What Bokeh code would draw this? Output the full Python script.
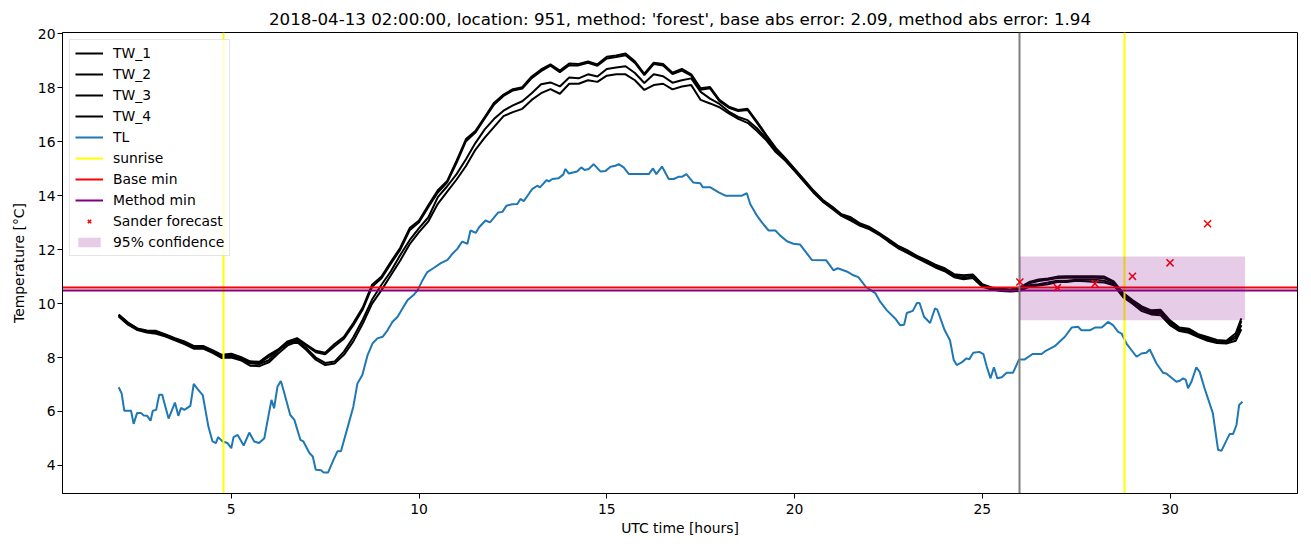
from bokeh.plotting import figure
from bokeh.models import Range1d, FixedTicker, Legend, LegendItem
from bokeh.embed import file_html
from bokeh.resources import INLINE

# ---------------- data ----------------
tw_hours = [2.0 + 0.25 * i for i in range(120)] + [31.9]

tw_1 = [9.60, 9.30, 9.08, 9.00, 8.99, 8.86, 8.72, 8.60, 8.43, 8.43, 8.27, 8.10,
        8.14, 8.02, 7.86, 7.84, 8.10, 8.30, 8.60, 8.72, 8.48, 8.25, 8.18, 8.50,
        8.77, 9.28, 9.85, 10.70, 11.00, 11.55, 12.07, 12.80, 13.08, 13.65, 14.20, 14.55,
        15.30, 16.10, 16.40, 16.92, 17.45, 17.75, 17.95, 18.02, 18.42, 18.68, 18.87, 18.64,
        18.90, 18.88, 18.98, 18.87, 19.15, 19.20, 19.27, 18.98, 18.52, 18.93, 18.88, 18.56,
        18.70, 18.50, 17.98, 18.03, 17.55, 17.30, 17.18, 17.22, 16.75, 16.25, 15.77, 15.40,
        15.00, 14.60, 14.20, 13.85, 13.60, 13.31, 13.20, 12.97, 12.84, 12.62, 12.39, 12.15,
        11.98, 11.78, 11.62, 11.44, 11.31, 11.09, 11.05, 11.08, 10.72, 10.60, 10.55, 10.52,
        10.60, 10.80, 10.89, 10.93, 11.00, 11.01, 11.01, 11.01, 11.01, 11.00, 10.82, 10.40,
        10.13, 9.90, 9.75, 9.77, 9.38, 9.11, 9.07, 8.87, 8.76, 8.65, 8.62, 8.90,
        9.45]

tw_2 = [9.58, 9.28, 9.06, 8.98, 8.95, 8.84, 8.70, 8.57, 8.40, 8.40, 8.24, 8.06,
        8.10, 7.98, 7.82, 7.80, 8.02, 8.28, 8.56, 8.68, 8.44, 8.20, 8.12, 8.42,
        8.70, 9.20, 9.78, 10.62, 10.94, 11.48, 12.00, 12.72, 13.02, 13.58, 14.12, 14.50,
        15.22, 16.02, 16.34, 16.86, 17.38, 17.70, 17.90, 17.97, 18.36, 18.62, 18.82, 18.58,
        18.84, 18.83, 18.93, 18.82, 19.09, 19.14, 19.21, 18.92, 18.47, 18.88, 18.83, 18.51,
        18.64, 18.45, 17.93, 17.98, 17.50, 17.26, 17.14, 17.18, 16.70, 16.21, 15.74, 15.37,
        14.97, 14.57, 14.17, 13.82, 13.57, 13.28, 13.17, 12.94, 12.81, 12.59, 12.36, 12.12,
        11.95, 11.75, 11.59, 11.41, 11.28, 11.06, 11.02, 11.05, 10.69, 10.58, 10.53, 10.50,
        10.56, 10.75, 10.84, 10.88, 10.95, 10.96, 10.96, 10.96, 10.96, 10.94, 10.78, 10.35,
        10.09, 9.85, 9.70, 9.71, 9.33, 9.06, 9.02, 8.83, 8.72, 8.61, 8.58, 8.80,
        9.35]

tw_3 = [9.55, 9.25, 9.05, 8.97, 8.92, 8.82, 8.68, 8.55, 8.38, 8.38, 8.22, 8.02,
        8.05, 7.95, 7.78, 7.76, 7.90, 8.25, 8.52, 8.62, 8.35, 8.00, 7.80, 7.85,
        8.22, 8.75, 9.40, 10.15, 10.70, 11.20, 11.80, 12.35, 12.80, 13.20, 13.95, 14.35,
        14.80, 15.35, 15.95, 16.46, 16.85, 17.15, 17.35, 17.50, 17.80, 18.13, 18.20, 18.05,
        18.38, 18.35, 18.50, 18.42, 18.70, 18.75, 18.80, 18.55, 18.18, 18.50, 18.43, 18.19,
        18.28, 18.35, 17.85, 17.60, 17.40, 17.12, 16.92, 16.80, 16.50, 16.12, 15.70, 15.35,
        14.95, 14.55, 14.15, 13.80, 13.55, 13.30, 13.15, 12.93, 12.80, 12.58, 12.35, 12.10,
        11.93, 11.74, 11.56, 11.38, 11.25, 11.02, 10.95, 11.00, 10.65, 10.55, 10.50, 10.48,
        10.52, 10.68, 10.72, 10.78, 10.85, 10.85, 10.88, 10.88, 10.88, 10.85, 10.72, 10.30,
        10.05, 9.80, 9.65, 9.65, 9.28, 9.02, 8.98, 8.80, 8.68, 8.58, 8.56, 8.72,
        9.20]

tw_4 = [9.52, 9.22, 9.02, 8.93, 8.88, 8.78, 8.64, 8.50, 8.33, 8.33, 8.17, 7.98,
        8.00, 7.90, 7.70, 7.68, 7.82, 8.15, 8.45, 8.58, 8.28, 7.92, 7.72, 7.78,
        8.10, 8.60, 9.25, 10.00, 10.50, 11.05, 11.60, 12.20, 12.65, 13.05, 13.70, 14.15,
        14.60, 15.10, 15.70, 16.15, 16.55, 16.95, 17.10, 17.22, 17.55, 17.80, 17.95, 17.78,
        18.15, 18.15, 18.28, 18.22, 18.45, 18.50, 18.50, 18.28, 17.92, 18.10, 18.15, 17.94,
        18.05, 18.10, 17.55, 17.42, 17.28, 17.05, 16.85, 16.70, 16.40, 16.05, 15.62, 15.30,
        14.92, 14.52, 14.12, 13.78, 13.52, 13.25, 13.08, 12.88, 12.75, 12.55, 12.30, 12.06,
        11.88, 11.70, 11.52, 11.34, 11.20, 10.98, 10.90, 10.95, 10.62, 10.52, 10.47, 10.45,
        10.47, 10.62, 10.67, 10.72, 10.80, 10.80, 10.85, 10.83, 10.80, 10.78, 10.68, 10.24,
        10.00, 9.72, 9.60, 9.57, 9.20, 8.98, 8.92, 8.76, 8.62, 8.54, 8.52, 8.62,
        9.05]

tl_hours = [2.00, 2.08, 2.15, 2.33, 2.40, 2.49, 2.60, 2.67, 2.76, 2.85, 2.91, 3.00, 3.08, 3.16,
            3.33, 3.50, 3.59, 3.66, 3.75, 3.91, 4.00, 4.11, 4.24, 4.39, 4.50, 4.59, 4.65, 4.77,
            4.90, 5.00, 5.06, 5.17, 5.33, 5.48, 5.61, 5.74, 5.88, 5.97, 6.07, 6.14, 6.23, 6.32,
            6.39, 6.57, 6.68, 6.84, 6.92, 7.08, 7.17, 7.25, 7.39, 7.46, 7.58, 7.71, 7.83, 7.92,
            8.05, 8.25, 8.36, 8.49, 8.63, 8.76, 8.89, 9.03, 9.16, 9.29, 9.43, 9.56, 9.69, 9.87,
            9.96, 10.09, 10.22, 10.40, 10.58, 10.76, 10.89, 11.02, 11.15, 11.29, 11.37, 11.51,
            11.60, 11.77, 11.89, 12.11, 12.22, 12.33, 12.48, 12.62, 12.70, 12.79, 12.95, 13.02,
            13.15, 13.22, 13.40, 13.46, 13.55, 13.72, 13.84, 13.90, 13.99, 14.21, 14.32, 14.41,
            14.52, 14.65, 14.83, 14.97, 15.10, 15.23, 15.32, 15.45, 15.59, 16.12, 16.23, 16.32,
            16.47, 16.65, 16.78, 16.91, 17.00, 17.12, 17.30, 17.49, 17.56, 17.76, 17.98, 18.16,
            18.60, 18.73, 18.82, 19.00, 19.13, 19.31, 19.49, 19.62, 19.80, 19.97, 20.15, 20.46,
            20.84, 21.04, 21.15, 21.39, 21.57, 21.70, 21.90, 22.15, 22.28, 22.46, 22.68, 22.81,
            22.92, 22.99, 23.15, 23.26, 23.33, 23.45, 23.61, 23.74, 23.80, 24.00, 24.14, 24.24,
            24.32, 24.40, 24.47, 24.58, 24.65, 24.76, 24.92, 25.03, 25.12, 25.22, 25.31, 25.40,
            25.52, 25.65, 25.82, 25.98, 26.13, 26.34, 26.58, 26.69, 26.93, 27.20, 27.38, 27.55,
            27.64, 27.86, 28.00, 28.18, 28.35, 28.48, 28.62, 28.71, 28.84, 29.11, 29.24, 29.37,
            29.46, 29.64, 29.81, 29.90, 30.17, 30.26, 30.35, 30.42, 30.48, 30.57, 30.70, 30.79,
            30.92, 31.14, 31.28, 31.37, 31.50, 31.59, 31.68, 31.77, 31.84, 31.93]

tl_values = [6.90, 6.67, 6.03, 6.03, 5.54, 5.94, 5.94, 5.85, 5.84, 5.66, 6.03, 6.06, 6.62, 6.62,
             5.74, 6.33, 5.84, 6.13, 6.06, 6.21, 7.02, 6.82, 6.61, 5.44, 4.89, 4.83, 5.05, 4.89,
             4.83, 4.64, 5.05, 5.13, 4.74, 5.22, 4.89, 4.83, 5.01, 5.69, 6.43, 6.12, 6.92, 7.13,
             6.80, 5.87, 5.69, 4.95, 4.89, 4.46, 4.33, 3.84, 3.82, 3.74, 3.74, 4.17, 4.53, 4.53,
             5.17, 6.18, 7.04, 7.35, 8.09, 8.52, 8.71, 8.77, 9.01, 9.32, 9.51, 9.82, 10.12, 10.34,
             10.49, 10.86, 11.17, 11.33, 11.50, 11.62, 11.85, 12.03, 12.30, 12.22, 12.71, 12.62,
             12.83, 13.08, 13.01, 13.38, 13.40, 13.63, 13.68, 13.69, 13.88, 13.80, 14.12, 14.25,
             14.37, 14.31, 14.58, 14.53, 14.62, 14.65, 14.78, 14.99, 14.82, 14.90, 15.05, 14.95,
             14.99, 15.17, 14.90, 14.92, 15.07, 15.11, 15.17, 15.05, 14.80, 14.80, 15.01, 14.80,
             15.08, 14.62, 14.62, 14.70, 14.70, 14.80, 14.49, 14.46, 14.31, 14.31, 14.12, 14.00,
             14.00, 14.09, 13.69, 13.26, 13.01, 12.71, 12.71, 12.52, 12.31, 12.22, 12.19, 11.62,
             11.61, 11.23, 11.31, 11.19, 11.05, 10.98, 10.62, 10.39, 10.07, 9.75, 9.45, 9.20,
             9.22, 9.65, 9.73, 10.02, 10.02, 9.51, 9.28, 9.82, 9.78, 9.01, 8.64, 7.91,
             7.72, 7.78, 7.84, 7.97, 7.93, 8.18, 8.21, 8.13, 7.66, 7.23, 7.64, 7.23,
             7.27, 7.44, 7.44, 7.93, 7.93, 8.13, 8.13, 8.25, 8.42, 8.77, 9.11, 9.14,
             9.01, 9.01, 9.11, 9.11, 9.32, 9.20, 8.95, 8.89, 8.52, 8.03, 8.15, 8.18,
             8.30, 7.78, 7.44, 7.41, 7.10, 7.14, 7.23, 7.17, 6.86, 7.10, 7.64, 7.47,
             6.86, 5.94, 4.58, 4.54, 4.92, 5.17, 5.17, 5.50, 6.24, 6.36]

sunrise_hours = [4.80, 28.79]
forecast_start = 26.0
base_min = 10.61
method_min = 10.47
forecast_hours = [26, 27, 28, 29, 30, 31]
forecast_values = [10.80, 10.59, 10.74, 11.01, 11.51, 12.96]
conf_start, conf_end = 26.0, 32.0
conf_low, conf_high = 9.38, 11.75

x_ticks = [5, 10, 15, 20, 25, 30]
y_ticks = [4, 6, 8, 10, 12, 14, 16, 18, 20]

title_text = ("2018-04-13 02:00:00, location: 951, method: 'forest', "
              "base abs error: 2.09, method abs error: 1.94")

# ---------------- figure ----------------
FONT = "DejaVu Sans"
p = figure(width=1303, height=539, output_backend="svg", toolbar_location=None,
           x_range=Range1d(0.505, 33.395), y_range=Range1d(2.96, 20.05),
           min_border_left=62, min_border_right=6, min_border_top=32, min_border_bottom=46)
p.background_fill_color = "white"
p.border_fill_color = "white"
p.outline_line_color = "black"
p.outline_line_width = 1
p.grid.visible = False

p.title.text = title_text
p.title.align = "center"
p.title.text_font = FONT
p.title.text_font_size = "16.7px"
p.title.text_font_style = "normal"
p.title.text_color = "black"
p.title.standoff = 7

for ax in (p.xaxis[0], p.yaxis[0]):
    ax.major_label_text_font = FONT
    ax.major_label_text_font_size = "13.9px"
    ax.major_label_text_color = "black"
    ax.axis_label_text_font = FONT
    ax.axis_label_text_font_size = "13.9px"
    ax.axis_label_text_font_style = "normal"
    ax.axis_label_text_color = "black"
    ax.axis_line_color = "black"
    ax.major_tick_line_color = "black"
    ax.major_tick_out = 5
    ax.major_tick_in = 0
    ax.minor_tick_line_color = None

p.xaxis.ticker = FixedTicker(ticks=x_ticks)
p.yaxis.ticker = FixedTicker(ticks=y_ticks)
p.xaxis.axis_label = "UTC time [hours]"
p.yaxis.axis_label = "Temperature [°C]"
p.xaxis.major_label_standoff = 5
p.yaxis.major_label_standoff = 2
p.xaxis.axis_label_standoff = 3
p.yaxis.axis_label_standoff = 8

LW = 2
r_tw = []
for vals in (tw_1, tw_2, tw_3, tw_4):
    r_tw.append(p.line(tw_hours, vals, line_color="black", line_width=LW))
r_tl = p.line(tl_hours, tl_values, line_color="#1f77b4", line_width=LW)

p.vspan(x=sunrise_hours, line_color="yellow", line_width=LW)
p.hspan(y=[base_min], line_color="red", line_width=LW)
p.hspan(y=[method_min], line_color="purple", line_width=LW)
p.vspan(x=[forecast_start], line_color="gray", line_width=LW)

r_fc = p.scatter(forecast_hours, forecast_values, marker="x", size=10,
                 line_color="red", line_width=1.5)
r_conf = p.quad(left=[conf_start], right=[conf_end], bottom=[conf_low], top=[conf_high],
                fill_color="purple", fill_alpha=0.2, line_color=None)

# legend proxies (single NaN point, never visible)
nan = float("nan")
r_sun = p.line([nan], [nan], line_color="yellow", line_width=LW)
r_base = p.line([nan], [nan], line_color="red", line_width=LW)
r_meth = p.line([nan], [nan], line_color="purple", line_width=LW)

items = [LegendItem(label="TW_1", renderers=[r_tw[0]]),
         LegendItem(label="TW_2", renderers=[r_tw[1]]),
         LegendItem(label="TW_3", renderers=[r_tw[2]]),
         LegendItem(label="TW_4", renderers=[r_tw[3]]),
         LegendItem(label="TL", renderers=[r_tl]),
         LegendItem(label="sunrise", renderers=[r_sun]),
         LegendItem(label="Base min", renderers=[r_base]),
         LegendItem(label="Method min", renderers=[r_meth]),
         LegendItem(label="Sander forecast", renderers=[r_fc]),
         LegendItem(label="95% confidence", renderers=[r_conf])]
legend = Legend(items=items, location="top_left", margin=7, padding=5, spacing=5,
                glyph_width=28, glyph_height=12, label_standoff=10,
                label_text_font=FONT, label_text_font_size="13.9px",
                label_text_color="black",
                border_line_color="#cccccc", border_line_width=1,
                background_fill_color="white", background_fill_alpha=0.8)
p.add_layout(legend)

open("out.html", "w").write(file_html(p, INLINE))
